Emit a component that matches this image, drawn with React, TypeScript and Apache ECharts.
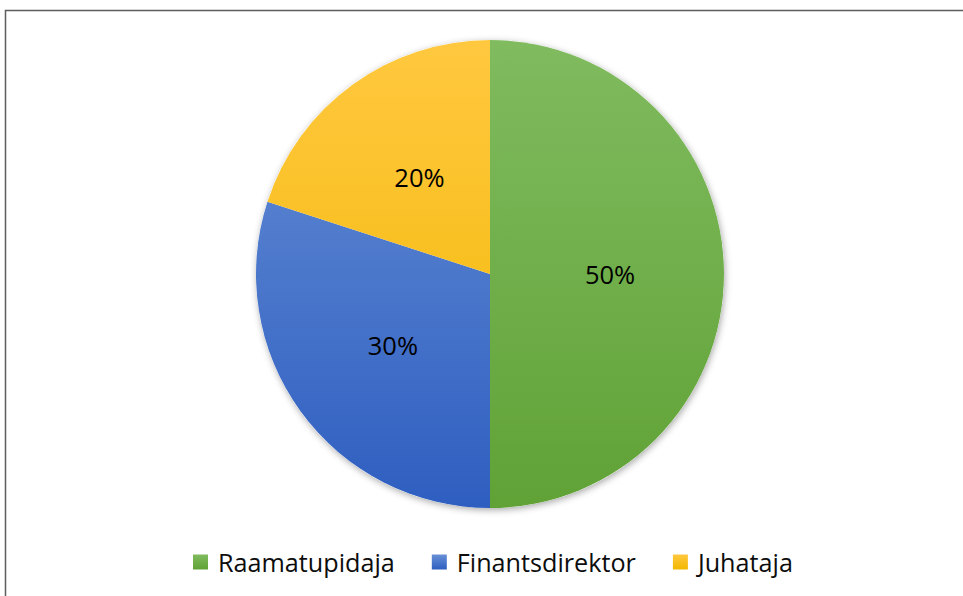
import React, { useEffect, useRef } from "react";
import * as echarts from "echarts";

const categories = ["Raamatupidaja", "Finantsdirektor", "Juhataja"];
const values = [50, 30, 20];
const topColors = ["#80bb5f", "#6890d6", "#ffc83f"];
const bottomColors = ["#60a236", "#2e5ec0", "#f2b700"];

export default function App() {
  const ref = useRef<HTMLDivElement>(null);
  useEffect(() => {
    if (!ref.current) return;
    const chart = echarts.init(ref.current, undefined, { renderer: "svg" });
    const cx = 490;
    const cy = 274;
    const r = 234;
    const grad = (i: number, global: boolean) =>
      global
        ? new echarts.graphic.LinearGradient(0, cy - r, 0, cy + r, [
            { offset: 0, color: topColors[i] },
            { offset: 1, color: bottomColors[i] },
          ], true)
        : new echarts.graphic.LinearGradient(0, 0, 0, 1, [
            { offset: 0, color: topColors[i] },
            { offset: 1, color: bottomColors[i] },
          ]);
    chart.setOption({
      animation: false,
      graphic: [
        {
          type: "rect",
          shape: { x: 5.5, y: 10.5, width: 1000, height: 700 },
          style: { fill: "none", stroke: "#5e5e5e", lineWidth: 1.5 },
          silent: true,
        },
      ],
      legend: {
        left: 188,
        top: 542,
        icon: "rect",
        itemWidth: 15,
        itemHeight: 15,
        itemGap: 37,
        selectedMode: false,
        textStyle: {
          fontFamily: "Open Sans",
          fontSize: 25.2,
          color: "#0d0d0d",
          padding: [0, 0, 0, 5],
          lineHeight: 30,
        },
        data: categories.map((name, i) => ({
          name,
          itemStyle: { color: grad(i, false) },
        })),
      },
      series: [
        {
          type: "pie",
          center: [cx, cy],
          radius: r,
          silent: true,
          z: 1,
          label: { show: false },
          labelLine: { show: false },
          data: [{ value: 1, name: "__shadow" }],
          itemStyle: {
            color: "#ffffff",
            shadowBlur: 7,
            shadowColor: "rgba(0,0,0,0.35)",
            shadowOffsetY: 2,
            shadowOffsetX: 1,
          },
          legendHoverLink: false,
        },
        {
          type: "pie",
          center: [cx, cy],
          radius: r,
          z: 2,
          startAngle: 90,
          clockwise: true,
          label: {
            show: true,
            position: "inside",
            formatter: "{d}%",
            fontFamily: "Open Sans",
            fontSize: 25.5,
            color: "#000000",
          },
          labelLine: { show: false },
          itemStyle: { borderWidth: 0 },
          emphasis: { disabled: true },
          data: categories.map((name, i) => ({
            name,
            value: values[i],
            itemStyle: { color: grad(i, true) },
          })),
        },
      ],
    });
    return () => chart.dispose();
  }, []);
  return (
    <div
      ref={ref}
      style={{ position: "fixed", left: 0, top: 0, width: 963, height: 596, background: "#fff" }}
    />
  );
}
